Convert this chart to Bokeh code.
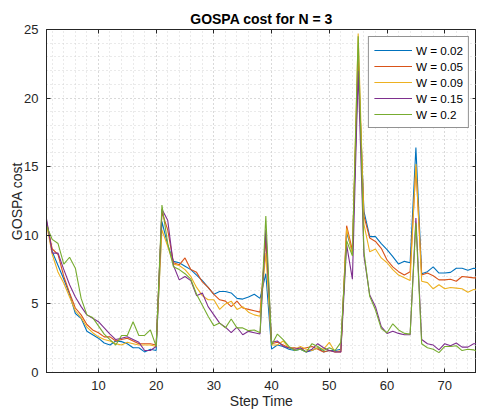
from bokeh.plotting import figure
from bokeh.models import (Range1d, SingleIntervalTicker, LinearAxis, Legend, LegendItem,
                          CustomLabelingPolicy)
from bokeh.embed import file_html
from bokeh.resources import INLINE

steps = list(range(1, 77))

w_002 = [11.0, 8.8, 7.8, 6.8, 5.7, 4.3, 3.95, 3.0, 2.75, 2.5, 2.15, 2.0, 2.3, 2.25, 2.1, 1.8, 1.8, 1.5, 1.7, 1.6,
         11.0, 9.3, 8.1, 8.0, 7.75, 7.5, 7.1, 6.7, 6.2, 5.7, 5.9, 5.9, 5.8, 5.4, 5.35, 5.5, 5.7, 5.4,
         7.2, 1.7, 2.0, 1.9, 1.7, 1.6, 1.7, 1.5, 1.6, 1.8, 1.5, 1.6, 1.6, 1.7, 10.2, 8.8, 22.5,
         11.75, 9.9, 9.9, 9.4, 8.95, 8.45, 7.9, 8.1, 8.0, 16.4,
         7.2, 7.35, 7.7, 7.25, 7.25, 7.3, 7.6, 7.6, 7.45, 7.6, 7.55]
w_005 = [11.0, 9.0, 8.6, 7.0, 5.8, 4.7, 4.2, 3.5, 3.1, 2.9, 2.6, 2.6, 2.3, 2.4, 2.5, 2.3, 2.1, 2.1, 2.1, 2.0,
         11.7, 10.4, 8.0, 7.85, 8.35, 7.5, 7.3, 6.6, 6.2, 5.7, 5.3, 5.2, 4.8, 5.2, 4.7, 4.6, 4.5, 4.4,
         9.7, 2.1, 2.2, 2.0, 1.8, 1.8, 1.7, 1.8, 1.9, 1.7, 1.5, 1.6, 1.5, 1.5, 10.7, 8.9, 23.0,
         11.4, 9.8, 9.55, 9.05, 8.2, 7.7, 7.35, 7.1, 7.35, 15.0,
         7.1, 7.25, 7.05, 6.75, 6.75, 6.8, 6.65, 7.0, 6.95, 6.9, 6.9]
w_009 = [10.8, 8.6, 7.3, 6.5, 5.5, 4.5, 4.0, 3.3, 2.9, 2.6, 2.4, 2.3, 2.1, 2.0, 2.2, 2.1, 2.0, 2.0, 2.0, 1.9,
         10.4, 9.2, 7.9, 7.8, 7.5, 7.0, 6.2, 5.6, 5.3, 5.3, 4.6, 5.0, 5.2, 4.6, 4.8, 4.4, 4.2, 4.1,
         8.7, 2.0, 2.0, 2.3, 1.8, 1.7, 1.9, 1.7, 1.6, 1.8, 1.7, 2.2, 1.5, 1.6, 10.5, 8.6, 24.7,
         10.8, 8.8, 9.0, 8.35, 8.0, 7.5, 7.1, 6.9, 6.7, 15.2,
         6.65, 6.55, 6.1, 6.4, 6.1, 6.2, 6.15, 6.1, 5.85, 6.05, 6.1]
w_015 = [11.2, 8.7, 8.7, 7.5, 6.4, 5.5, 4.8, 4.2, 3.95, 3.7, 3.25, 2.8, 2.4, 2.5, 2.6, 2.4, 2.2, 1.6, 1.6, 1.9,
         11.9, 11.1, 7.8, 6.75, 7.0, 6.7, 5.6, 5.8, 4.8, 4.2, 3.6, 3.3, 2.9, 3.3, 2.75, 3.0, 2.9, 2.8,
         10.4, 2.2, 2.3, 1.9, 1.8, 1.7, 1.8, 1.5, 1.7, 2.1, 1.8, 1.6, 1.5, 1.5, 9.3, 6.8, 22.0,
         8.5, 5.65, 4.8, 3.35, 2.85, 3.0, 2.85, 2.75, 2.75, 11.25,
         2.4, 2.1, 2.0, 1.65, 2.1, 1.95, 2.15, 1.85, 1.85, 2.1, 2.1]
w_020 = [10.7, 9.7, 9.4, 7.9, 8.4, 7.6, 5.4, 4.2, 4.0, 3.4, 2.8, 2.4, 2.0, 2.7, 2.7, 3.7, 2.7, 2.7, 3.1, 1.9,
         12.2, 9.4, 7.7, 7.5, 7.2, 6.8, 5.7, 4.9, 4.1, 3.4, 3.6, 3.25, 3.9, 3.25, 3.25, 3.05, 3.1, 2.9,
         11.4, 2.0, 2.8, 2.4, 1.9, 1.6, 1.7, 1.5, 2.1, 1.9, 1.6, 1.8, 1.6, 2.2, 9.6, 8.5, 24.5,
         8.8, 5.55, 4.55, 3.2, 2.9, 3.55, 3.1, 2.85, 2.8, 10.9,
         2.1, 1.8, 1.7, 1.45, 1.9, 1.9, 1.95, 1.6, 1.7, 1.65, 1.45]

series = [w_002, w_005, w_009, w_015, w_020]
labels = ["W = 0.02", "W = 0.05", "W = 0.09", "W = 0.15", "W = 0.2"]
colors = ["#0072BD", "#D95319", "#EDB120", "#7E2F8E", "#77AC30"]

x_lo, x_hi = 1, 75.5
y_lo, y_hi = 0, 25

FONT = "Liberation Sans"
AX = "#262626"

p = figure(frame_width=430, frame_height=343, output_backend="svg", toolbar_location=None,
           x_range=Range1d(x_lo, x_hi), y_range=Range1d(y_lo, y_hi),
           min_border_left=0, min_border_right=0, min_border_top=0, min_border_bottom=0,
           background_fill_color="white", border_fill_color="white")
p.margin = (5, 0, 0, 6)

p.title.text = "GOSPA cost for N = 3"
p.title.align = "center"
p.title.text_font = FONT
p.title.text_font_size = "14px"
p.title.text_font_style = "bold"
p.title.text_color = "#000000"
p.title.standoff = 6

xt = SingleIntervalTicker(interval=10, num_minor_ticks=5)
yt = SingleIntervalTicker(interval=5, num_minor_ticks=5)

bottom_ax = p.below[0]
left_ax = p.left[0]
bottom_ax.ticker = xt
left_ax.ticker = yt
bottom_ax.axis_label = "Step Time"
left_ax.axis_label = "GOSPA cost"

no_labels = CustomLabelingPolicy(code="return []")
top_ax = LinearAxis(ticker=xt, fixed_location=y_hi, major_label_policy=no_labels)
right_ax = LinearAxis(ticker=yt, fixed_location=x_hi, major_label_policy=no_labels)
p.add_layout(top_ax, "above")
p.add_layout(right_ax, "right")

for ax in [bottom_ax, left_ax, top_ax, right_ax]:
    ax.axis_line_color = AX
    ax.major_tick_line_color = AX
    ax.major_tick_in = 4
    ax.major_tick_out = 0
    ax.minor_tick_line_color = None
    ax.major_label_text_font = FONT
    ax.major_label_text_font_size = "13px"
    ax.major_label_text_color = AX
    ax.axis_label_text_font = FONT
    ax.axis_label_text_font_size = "14px"
    ax.axis_label_text_font_style = "normal"
    ax.axis_label_text_color = AX

bottom_ax.major_label_standoff = 4
bottom_ax.axis_label_standoff = 0
left_ax.major_label_standoff = 4
left_ax.axis_label_standoff = -4

for g, t in [(p.xgrid[0], xt), (p.ygrid[0], yt)]:
    g.ticker = t
    g.grid_line_color = "#c8c8c8"
    g.grid_line_dash = "1 3"
    g.minor_grid_line_color = "#d4d4d4"
    g.minor_grid_line_dash = "1 3"

p.outline_line_color = AX

items = []
for vals, lab, col in zip(series, labels, colors):
    r = p.line(steps, vals, line_color=col, line_width=1.1)
    items.append(LegendItem(label=lab, renderers=[r]))

legend = Legend(items=items, location="top_right", margin=7, padding=5, spacing=0,
                glyph_width=38, glyph_height=16, label_height=16, label_standoff=4,
                label_text_font=FONT, label_text_font_size="11.7px", label_text_color="#000000",
                border_line_color=AX, border_line_width=1, background_fill_color="white",
                background_fill_alpha=1.0)
p.add_layout(legend)

open("out.html", "w").write(file_html(p, INLINE))
